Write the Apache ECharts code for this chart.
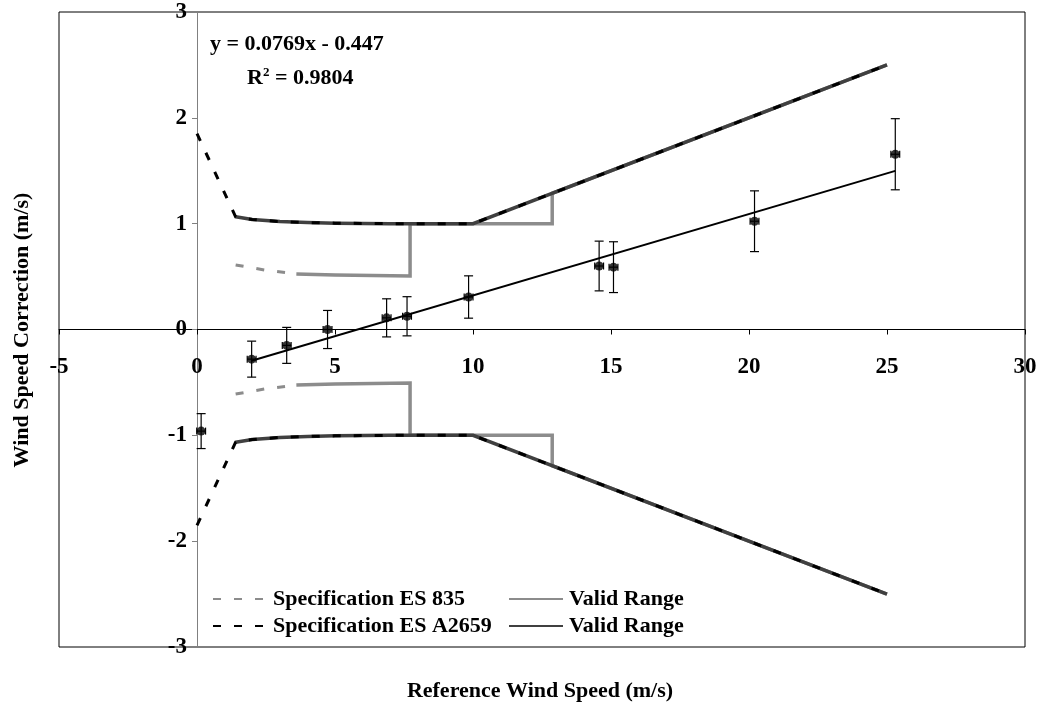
<!DOCTYPE html>
<html>
<head>
<meta charset="utf-8">
<script src="https://cdn.jsdelivr.net/npm/echarts@6/dist/echarts.min.js"></script>
<style>
html,body{margin:0;padding:0;background:#fff;}
#chart{width:1040px;height:708px;}
</style>
</head>
<body>
<div id="chart"></div>
<script>
// ---- measured data ----
const windSpeed  = [0.15, 1.98, 3.25, 4.73, 6.87, 7.61, 9.84, 14.57, 15.09, 20.2, 25.3];
const correction = [-0.96, -0.28, -0.15, 0.0, 0.11, 0.125, 0.307, 0.60, 0.589, 1.023, 1.656];
const errorY     = [0.165, 0.17, 0.17, 0.18, 0.18, 0.185, 0.2, 0.235, 0.24, 0.287, 0.336];
const errorX     = [0.16, 0.16, 0.16, 0.16, 0.16, 0.16, 0.16, 0.16, 0.16, 0.16, 0.16];

// ---- trend line endpoints (y = 0.0769x - 0.447) ----
const trendX = [1.98, 25.3];
const trendY = [-0.295, 1.499];
const equationText = 'y = 0.0769x - 0.447';
const r2Value = '0.9804';

// ---- Specification ES A2659 ----
const a2659SpecX     = [0, 1.4, 2, 3, 4, 5, 7, 10, 25];
const a2659SpecUpper = [1.85, 1.065, 1.04, 1.02, 1.01, 1.005, 1.0, 1.0, 2.5];
const a2659SpecLower = [-1.85, -1.065, -1.04, -1.02, -1.01, -1.005, -1.0, -1.0, -2.5];
const a2659ValidX     = [1.4, 2, 3, 4, 5, 7, 10, 25];
const a2659ValidUpper = [1.065, 1.04, 1.02, 1.01, 1.005, 1.0, 1.0, 2.5];
const a2659ValidLower = [-1.065, -1.04, -1.02, -1.01, -1.005, -1.0, -1.0, -2.5];

// ---- Specification ES 835 ----
const es835SpecX     = [1.4, 2.5, 3.6];
const es835SpecUpper = [0.61, 0.56, 0.525];
const es835SpecLower = [-0.61, -0.56, -0.525];
const es835ValidX     = [3.6, 5, 7.72, 7.72, 12.87, 12.87, 25];
const es835ValidUpper = [0.525, 0.515, 0.505, 1.0, 1.0, 1.287, 2.5];
const es835ValidLower = [-0.525, -0.515, -0.505, -1.0, -1.0, -1.287, -2.5];

// ---- axis ticks ----
const xMin = -5, xMax = 30, xStep = 5;
const yMin = -3, yMax = 3, yStep = 1;

const NAME_835 = 'Specification ES 835';
const NAME_2659 = 'Specification ES A2659';
const NAME_VR835 = 'Valid Range (ES 835)';
const NAME_VR2659 = 'Valid Range (ES A2659)';

const FONT = 'Liberation Serif';
const zip = (xs, ys) => xs.map((x, i) => [x, ys[i]]);

const GRAY = '#8c8c8c';
const DARK = '#404040';
const dash = [8, 13];

// grid geometry (pixels)
const GRID = { left: 59, right: 15, top: 12, bottom: 61 };
const plotW = 1040 - GRID.left - GRID.right;
const plotH = 708 - GRID.top - GRID.bottom;
// move the axes so they cross at the origin (labels follow)
const xAxisOffset = -plotH * (0 - yMin) / (yMax - yMin);
const yAxisOffset = -plotW * (0 - xMin) / (xMax - xMin);

function lineSeries(name, xs, ys, color, type, width, z) {
  return {
    name: name, type: 'line', data: zip(xs, ys), symbol: 'none', z: z,
    lineStyle: { color: color, width: width, type: type, cap: 'butt', join: 'miter' },
    itemStyle: { color: color },
    silent: true, animation: false
  };
}

const chart = echarts.init(document.getElementById('chart'), null, { renderer: 'canvas' });

const legendText = { fontFamily: FONT, fontWeight: 'bold', fontSize: 22, color: '#000' };

const option = {
  animation: false,
  backgroundColor: '#fff',
  textStyle: { fontFamily: FONT },
  grid: Object.assign({ show: true, borderColor: '#000', borderWidth: 1, backgroundColor: 'transparent' }, GRID),
  xAxis: {
    type: 'value', min: xMin, max: xMax, interval: xStep,
    position: 'bottom', offset: xAxisOffset,
    axisLine: { onZero: false, lineStyle: { color: '#000', width: 1 } },
    axisTick: { show: true, length: 5, lineStyle: { color: '#000' } },
    axisLabel: { fontFamily: FONT, fontWeight: 'bold', fontSize: 23, color: '#000', margin: 26 },
    splitLine: { show: false }
  },
  yAxis: {
    type: 'value', min: yMin, max: yMax, interval: yStep,
    position: 'left', offset: yAxisOffset,
    axisLine: { onZero: false, lineStyle: { color: '#808080', width: 1 } },
    axisTick: { show: true, length: 5, lineStyle: { color: '#808080' } },
    axisLabel: { fontFamily: FONT, fontWeight: 'bold', fontSize: 23, color: '#000', margin: 10 },
    splitLine: { show: false }
  },
  legend: [
    {
      orient: 'vertical', left: 207, top: 583, itemWidth: 50, itemHeight: 14, itemGap: 5,
      data: [NAME_835, NAME_2659],
      itemStyle: { opacity: 0 },
      textStyle: Object.assign({ padding: [0, 0, 0, 5] }, legendText),
      selectedMode: false
    },
    {
      orient: 'vertical', left: 503, top: 583, itemWidth: 54, itemHeight: 14, itemGap: 5,
      data: [NAME_VR835, NAME_VR2659],
      itemStyle: { opacity: 0 },
      formatter: function () { return 'Valid Range'; },
      textStyle: Object.assign({ padding: [0, 0, 0, 1] }, legendText),
      selectedMode: false
    }
  ],
  graphic: [
    {
      type: 'text', left: 210, top: 33,
      style: { text: equationText, font: 'bold 22px "Liberation Serif"', fill: '#000' }
    },
    {
      type: 'text', left: 247, top: 66,
      style: {
        text: '{a|R}{s|2}{a| = ' + r2Value + '}',
        rich: {
          a: { font: 'bold 22px "Liberation Serif"', fill: '#000', verticalAlign: 'bottom' },
          s: { font: 'bold 13px "Liberation Serif"', fill: '#000', verticalAlign: 'top', padding: [0, 0, 10, 0] }
        }
      }
    },
    {
      type: 'text', x: 22, y: 330, rotation: Math.PI / 2,
      style: { text: 'Wind Speed Correction (m/s)', font: 'bold 22px "Liberation Serif"', fill: '#000', align: 'center', verticalAlign: 'middle' }
    },
    {
      type: 'text', x: 540, y: 691,
      style: { text: 'Reference Wind Speed (m/s)', font: 'bold 22px "Liberation Serif"', fill: '#000', align: 'center', verticalAlign: 'middle' }
    }
  ],
  series: [
    lineSeries(NAME_835, es835SpecX, es835SpecUpper, GRAY, dash, 3, 2),
    lineSeries(NAME_835, es835SpecX, es835SpecLower, GRAY, dash, 3, 2),
    lineSeries(NAME_VR835, es835ValidX, es835ValidUpper, GRAY, 'solid', 3.5, 3),
    lineSeries(NAME_VR835, es835ValidX, es835ValidLower, GRAY, 'solid', 3.5, 3),
    lineSeries(NAME_VR2659, a2659ValidX, a2659ValidUpper, DARK, 'solid', 3.5, 4),
    lineSeries(NAME_VR2659, a2659ValidX, a2659ValidLower, DARK, 'solid', 3.5, 4),
    lineSeries(NAME_2659, a2659SpecX, a2659SpecUpper, '#000', dash, 3, 5),
    lineSeries(NAME_2659, a2659SpecX, a2659SpecLower, '#000', dash, 3, 5),
    {
      name: 'Linear trend', type: 'line', data: zip(trendX, trendY), symbol: 'none', z: 6,
      lineStyle: { color: '#000', width: 2 }, silent: true
    },
    {
      name: 'Error bars', type: 'custom', z: 7, silent: true,
      data: windSpeed.map((x, i) => [x, correction[i], errorY[i], errorX[i]]),
      renderItem: function (params, api) {
        const x = api.value(0), y = api.value(1), ey = api.value(2), ex = api.value(3);
        const top = api.coord([x, y + ey]);
        const bot = api.coord([x, y - ey]);
        const l = api.coord([x - ex, y]);
        const r = api.coord([x + ex, y]);
        const st = { stroke: '#000', lineWidth: 1.2 };
        const cw = 4.5, ch = 3.5;
        return {
          type: 'group',
          children: [
            { type: 'line', shape: { x1: top[0], y1: top[1], x2: bot[0], y2: bot[1] }, style: st },
            { type: 'line', shape: { x1: top[0] - cw, y1: top[1], x2: top[0] + cw, y2: top[1] }, style: st },
            { type: 'line', shape: { x1: bot[0] - cw, y1: bot[1], x2: bot[0] + cw, y2: bot[1] }, style: st },
            { type: 'line', shape: { x1: l[0], y1: l[1], x2: r[0], y2: r[1] }, style: st },
            { type: 'line', shape: { x1: l[0], y1: l[1] - ch, x2: l[0], y2: l[1] + ch }, style: st },
            { type: 'line', shape: { x1: r[0], y1: r[1] - ch, x2: r[0], y2: r[1] + ch }, style: st }
          ]
        };
      }
    },
    {
      name: 'Measured', type: 'scatter', z: 8, silent: true,
      data: zip(windSpeed, correction),
      symbol: 'circle', symbolSize: 9,
      itemStyle: { color: '#000' }
    }
  ]
};

chart.setOption(option);
</script>
</body>
</html>
